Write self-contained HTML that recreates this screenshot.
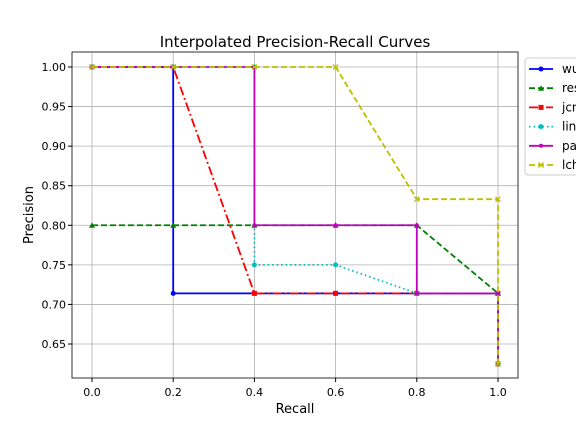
<!DOCTYPE html>
<html><head><meta charset="utf-8"><style>
body{margin:0;background:#fff;width:576px;height:432px;overflow:hidden}
svg{display:block;font-family:"DejaVu Sans","Liberation Sans",sans-serif}
</style></head><body>
<svg id="c" width="576" height="432"></svg>
<script>
const xTicks=[0,0.2,0.4,0.6,0.8,1.0];
const yTicks=[0.65,0.70,0.75,0.80,0.85,0.90,0.95,1.00];
const names=["wup","res","jcn","lin","path","lch"];
const recWu=[0,0.2,0.2,0.4,0.6,0.8,1,1];
const preWu=[1,1,0.714,0.714,0.714,0.714,0.714,0.625];
const recRes=[0,0.2,0.4,0.6,0.8,1,1];
const preRes=[0.8,0.8,0.8,0.8,0.8,0.714,0.625];
const recJcn=[0,0.2,0.4,0.6,0.8,1,1];
const preJcn=[1,1,0.714,0.714,0.714,0.714,0.625];
const recLin=[0,0.2,0.4,0.4,0.6,0.8,1,1];
const preLin=[1,1,1,0.75,0.75,0.714,0.714,0.625];
const recPath=[0,0.2,0.4,0.4,0.6,0.8,0.8,1,1];
const prePath=[1,1,1,0.8,0.8,0.8,0.714,0.714,0.625];
const recLch=[0,0.2,0.4,0.6,0.8,1,1];
const preLch=[1,1,1,1,0.833,0.833,0.625];
const L=72,R=518,T=52,B=378;
const sx=v=>92+v*(498-92);
const sy=v=>67+(1-v)/0.05*39.57;
const svg=document.getElementById('c');const NS='http://www.w3.org/2000/svg';
function mk(t,a,p){const e=document.createElementNS(NS,t);for(const k in a)e.setAttribute(k,a[k]);(p||svg).appendChild(e);return e;}
mk('rect',{x:0,y:0,width:576,height:432,fill:'#fff'});
xTicks.forEach(v=>{const g=mk('line',{x1:sx(v),x2:sx(v),y1:T,y2:B,stroke:'#b0b0b0','stroke-width':0.8});

mk('line',{x1:sx(v),x2:sx(v),y1:B,y2:B+4,stroke:'#000'});
const t=mk('text',{x:sx(v),y:B+18,'font-size':11,'text-anchor':'middle'});t.textContent=v.toFixed(1);
});
yTicks.forEach(v=>{const g=mk('line',{x1:L,x2:R,y1:sy(v),y2:sy(v),stroke:'#b0b0b0','stroke-width':0.8});

mk('line',{x1:L-4,x2:L,y1:sy(v),y2:sy(v),stroke:'#000'});
const t=mk('text',{x:L-6,y:sy(v)+4,'font-size':11,'text-anchor':'end'});t.textContent=v.toFixed(2);
});
const series=[
 {r:recWu,p:preWu,c:'#0000ff',d:'',m:'o'},
 {r:recRes,p:preRes,c:'#008000',d:'6,3',m:'^'},
 {r:recJcn,p:preJcn,c:'#ff0000',d:'9,3,2,3',m:'s'},
 {r:recLin,p:preLin,c:'#00bfbf',d:'1.5,3',m:'h'},
 {r:recPath,p:prePath,c:'#bf00bf',d:'',m:'*'},
 {r:recLch,p:preLch,c:'#bfbf00',d:'6,3',m:'x'}];
function marker(m,x,y,c,g){
 if(m==='o'||m==='h')return mk('circle',{cx:x,cy:y,r:2.5,fill:c},g);
 if(m==='^')return mk('polygon',{points:`${x},${y-3} ${x-3},${y+2.5} ${x+3},${y+2.5}`,fill:c},g);
 if(m==='s')return mk('rect',{x:x-2.5,y:y-2.5,width:5,height:5,fill:c},g);
 if(m==='*')return mk('circle',{cx:x,cy:y,r:2,fill:c},g);
 const e=mk('path',{d:`M${x-2.5},${y-2.5}L${x+2.5},${y+2.5}M${x-2.5},${y+2.5}L${x+2.5},${y-2.5}`,stroke:c,'stroke-width':1.3},g);return e;}
series.forEach((s,i)=>{const g=mk('g',{});

const pts=s.r.map((r,j)=>sx(r)+','+sy(s.p[j])).join(' ');
const a={points:pts,fill:'none',stroke:s.c,'stroke-width':1.8};if(s.d)a['stroke-dasharray']=s.d;
mk('polyline',a,g);
s.r.forEach((r,j)=>marker(s.m,sx(r),sy(s.p[j]),s.c,g));});
mk('rect',{x:L,y:T,width:R-L,height:B-T,fill:'none',stroke:'#000','stroke-width':0.8});
let t=mk('text',{x:295,y:47,'font-size':15,'text-anchor':'middle'});t.textContent='Interpolated Precision-Recall Curves';

t=mk('text',{x:295,y:413,'font-size':13,'text-anchor':'middle'});t.textContent='Recall';

t=mk('text',{x:33,y:215,'font-size':13,'text-anchor':'middle',transform:'rotate(-90 33 215)'});t.textContent='Precision';

const lg=mk('g',{});
mk('rect',{x:525,y:58,width:60,height:117,rx:3,fill:'#fff',stroke:'#ccc'},lg);
series.forEach((s,i)=>{const y=69+i*19.2;const e=mk('g',{},lg);

const a={x1:529,x2:553,y1:y,y2:y,stroke:s.c,'stroke-width':1.8};if(s.d)a['stroke-dasharray']=s.d;mk('line',a,e);
marker(s.m,541,y,s.c,e);
const tt=mk('text',{x:562,y:y+4,'font-size':12},e);tt.textContent=names[i];});
</script>
</body></html>
